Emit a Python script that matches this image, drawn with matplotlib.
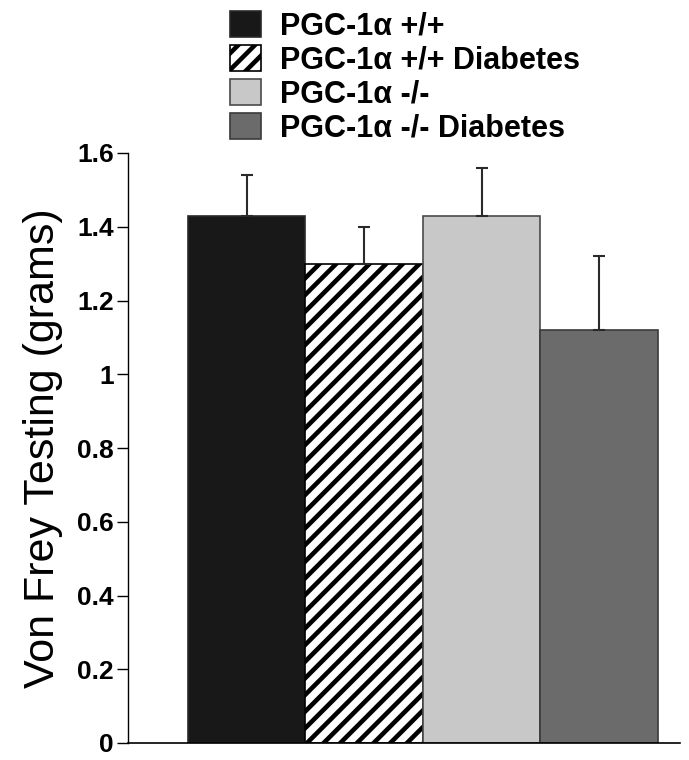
import matplotlib.pyplot as plt

plt.rcParams['font.family'] = ['Liberation Sans', 'DejaVu Sans']
plt.rcParams['hatch.linewidth'] = 3.3

# Data
groups = ['PGC-1\u03b1 +/+', 'PGC-1\u03b1 +/+ Diabetes',
          'PGC-1\u03b1 -/-', 'PGC-1\u03b1 -/- Diabetes']
means = [1.43, 1.30, 1.43, 1.12]
errors = [0.11, 0.10, 0.13, 0.20]
yticks = [0, 0.2, 0.4, 0.6, 0.8, 1, 1.2, 1.4, 1.6]
yticklabels = ['0', '0.2', '0.4', '0.6', '0.8', '1', '1.2', '1.4', '1.6']

colors = ['#181818', 'white', '#c8c8c8', '#6b6b6b']
edges = ['#2a2a2a', 'black', '#4a4a4a', '#3a3a3a']
hatches = [None, '//', None, None]

fig = plt.figure(figsize=(6.89, 7.6), dpi=100)
ax = fig.add_axes([128 / 689, 17 / 760, (680 - 128) / 689, (743 - 153) / 760])

x = list(range(len(means)))
bars = ax.bar(x, means, width=1.0, color=colors, edgecolor=edges, linewidth=1.2)
for b, h, lab in zip(bars, hatches, groups):
    if h:
        b.set_hatch(h)
    b.set_label(lab)

ax.errorbar(x, means, yerr=[[0] * len(errors), errors], fmt='none',
            ecolor='#2a2a2a', elinewidth=1.5, capsize=4, capthick=1.5)

ax.set_xlim(-1.01, 3.69)
ax.set_ylim(0, 1.6)
ax.set_yticks(yticks)
ax.set_yticklabels(yticklabels, fontsize=19, fontweight='bold')
ax.set_xticks([])
ax.tick_params(axis='y', direction='out', length=8, width=1, pad=2)

for s in ['top', 'right']:
    ax.spines[s].set_visible(False)
ax.spines['left'].set_linewidth(1)
ax.spines['bottom'].set_linewidth(1.2)

ax.set_ylabel('Von Frey Testing (grams)', fontsize=31, labelpad=10)

fig.legend(handles=list(bars), loc='upper left', bbox_to_anchor=(230 / 689, 1 - 11 / 760),
           frameon=False, prop={'size': 22, 'weight': 'bold'},
           handlelength=1.0, handleheight=0.95, handletextpad=0.65,
           labelspacing=0.11, borderpad=0, borderaxespad=0)

fig.savefig('out.png', dpi=100)
